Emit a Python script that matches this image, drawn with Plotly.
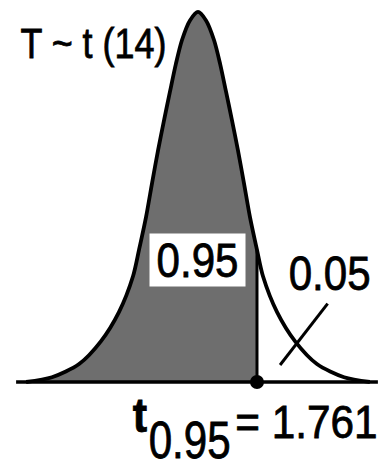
import json
import plotly.graph_objects as go

# ---- data (t units, density units) ----
t_grid = [-5.13, -4.36, -3.55, -2.90, -2.36, -1.94, -1.761, -1.55, -1.37, -1.19, -1.01, -0.84,
          -0.66, -0.48, -0.24, 0.0, 0.24, 0.48, 0.66, 0.84, 1.01, 1.19, 1.37, 1.55, 1.761,
          1.94, 2.36, 2.90, 3.55, 4.36, 5.13]
density = [0.000, 0.005, 0.019, 0.043, 0.074, 0.112, 0.140, 0.175, 0.211, 0.246, 0.278, 0.307,
           0.337, 0.362, 0.383, 0.392, 0.383, 0.362, 0.337, 0.307, 0.278, 0.246, 0.211, 0.175,
           0.140, 0.112, 0.074, 0.043, 0.019, 0.005, 0.000]
t_crit = 1.761
df = 14
area_left = 0.95
area_right = 0.05
baseline_t = [-5.43, 5.37]
leader_t = [2.45, 3.87]
leader_density = [0.018, 0.083]

# shaded part: everything up to the critical value
shade_x = [x for x in t_grid if x <= t_crit]
shade_y = [y for x, y in zip(t_grid, density) if x <= t_crit]
crit_height = density[t_grid.index(t_crit)]

W, H = 385, 469
GRAY = "#6e6e6e"
FONT = "Liberation Sans, Arial, Helvetica, sans-serif"


def px(x):
    return x / W


def py(y):
    return 1 - y / H


fig = go.Figure()
fig.add_trace(go.Scatter(x=shade_x, y=shade_y, mode="lines",
                         line=dict(width=0, shape="spline", smoothing=0.8),
                         fill="tozeroy", fillcolor=GRAY, hoverinfo="skip"))
fig.add_trace(go.Scatter(x=t_grid, y=density, mode="lines",
                         line=dict(color="black", width=3.8, shape="spline", smoothing=0.8)))
fig.add_trace(go.Scatter(x=[t_crit, t_crit], y=[0, crit_height], mode="lines",
                         line=dict(color="black", width=3)))
fig.add_trace(go.Scatter(x=baseline_t, y=[0, 0], mode="lines",
                         line=dict(color="black", width=3.5)))
fig.add_trace(go.Scatter(x=leader_t, y=leader_density, mode="lines",
                         line=dict(color="black", width=3)))
fig.add_trace(go.Scatter(x=[t_crit], y=[0], mode="markers",
                         marker=dict(color="black", size=14)))

# text: (text, centre x px, centre y px, size, horizontal squeeze)
ann = [
    dict(text=f"T ~ t ({df})", x=93.5, y=42.5, size=43, sq=0.835),
    dict(text=f"{area_left:.2f}", x=197.5, y=259.5, size=49, sq=0.86,
         bgcolor="white", borderpad=0, width=95, height=52),
    dict(text=f"{area_right:.2f}", x=329, y=272.5, size=49, sq=0.86),
    dict(text="<b>t</b>", x=139.5, y=415.5, size=48, sq=0.9),
    dict(text=f"{area_left:.2f}", x=189, y=440, size=51, sq=0.826),
    dict(text=f"= {t_crit}", x=306.5, y=422, size=46, sq=0.92),
]
squeeze = []
for a in ann:
    squeeze.append(a.pop("sq"))
    size = a.pop("size")
    a["x"] = px(a["x"])
    a["y"] = py(a["y"])
    fig.add_annotation(xref="paper", yref="paper", xanchor="center", yanchor="middle",
                       showarrow=False, font=dict(family=FONT, size=size, color="black"), **a)

fig.update_layout(
    width=W, height=H, margin=dict(l=0, r=0, t=0, b=0),
    paper_bgcolor="white", plot_bgcolor="white", showlegend=False,
    xaxis=dict(range=[-198 / 33.5, 187 / 33.5], visible=False, fixedrange=True),
    yaxis=dict(range=[-87 / 944, 382 / 944], visible=False, fixedrange=True),
)

post = """
document.body.style.margin = '0';
document.body.style.overflow = 'hidden';
var sq = %s;
document.querySelectorAll('g.annotation').forEach(function (g) {
  var i = parseInt(g.getAttribute('data-index'));
  var t = g.querySelector('text.annotation-text');
  if (t && !isNaN(i)) {
    t.style.transformBox = 'fill-box';
    t.style.transformOrigin = 'center';
    t.style.transform = 'scaleX(' + sq[i] + ')';
    t.style.stroke = 'black';
    t.style.strokeWidth = '0.8px';
  }
});
""" % json.dumps(squeeze)

fig.write_html("out.html", config={"displayModeBar": False}, post_script=post)
